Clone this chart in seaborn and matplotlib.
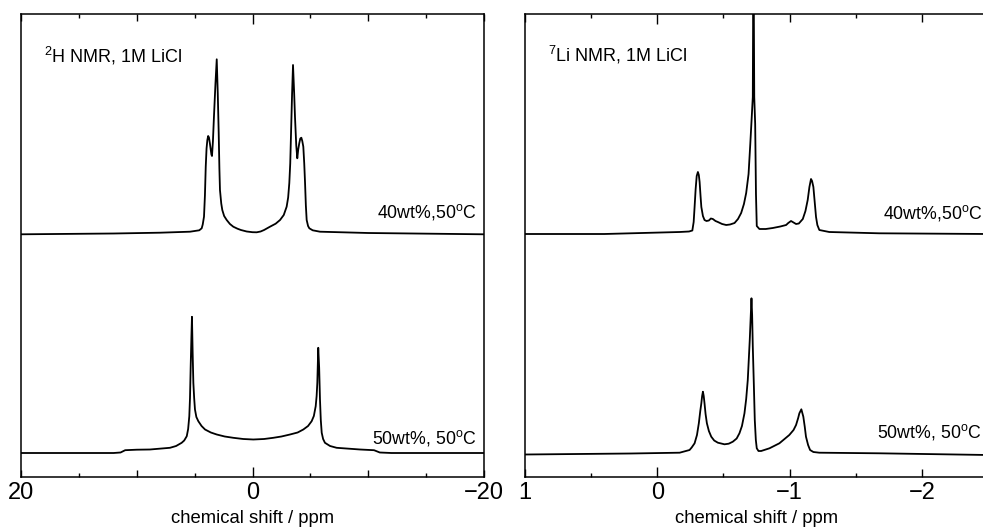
import numpy as np
import pandas as pd
import matplotlib
matplotlib.use("Agg")
import matplotlib.pyplot as plt
import seaborn as sns

# ---------------- data ----------------
# 2H NMR, 40 wt%, 50 C  (chemical shift in ppm, intensity in a.u.)
H2_PPM_40 = [20, 12, 8, 5.4, 4.6, 4.39, 4.30, 4.19, 4.11, 4.04,
             3.97, 3.90, 3.83, 3.76, 3.68, 3.61, 3.55, 3.50, 3.42, 3.33,
             3.20, 3.09, 3.00, 2.92, 2.86, 2.81, 2.70, 2.61, 2.45, 2.23,
             1.95, 1.66, 1.3, 1.0, 0.5, 0.0, -0.36, -0.7, -1.0, -1.51,
             -2.0, -2.38, -2.7, -2.95, -3.08, -3.18, -3.26, -3.33, -3.42, -3.50,
             -3.60, -3.67, -3.78, -3.87, -3.95, -4.04, -4.13, -4.22, -4.30, -4.39,
             -4.47, -4.54, -4.61, -4.68, -4.80, -4.91, -5.2, -5.83, -10, -20]
H2_INT_40 = [-0.8, 0, 0.8, 1.8, 3.2, 5.2, 9, 16.8, 38, 66.8,
             85, 93.5, 97.5, 96, 90, 84, 79, 77.5, 92, 116.8,
             150, 174.2, 140, 100.5, 65, 43.5, 30, 23.5, 17.5, 13.5,
             9.5, 6.8, 4.8, 3.5, 2.0, 1.3, 1.2, 2.0, 3.5, 6.8,
             9.8, 13.5, 18.5, 26.8, 36, 50.5, 70, 100.5, 140, 168.5,
             140, 116.8, 88, 75.2, 84, 90.2, 95, 95.8, 92.5, 86.8,
             70, 50.5, 28, 13.5, 7.5, 5.2, 3.2, 1.8, 0.5, -0.8]

# 2H NMR, 50 wt%, 50 C
H2_PPM_50 = [20, 12, 11.4, 11.0, 10.0, 8.86, 7.13, 6.6, 6.12, 5.9,
             5.68, 5.56, 5.46, 5.40, 5.34, 5.28, 5.23, 5.17, 5.11, 5.04,
             4.97, 4.85, 4.68, 4.4, 4.10, 3.6, 3.09, 2.4, 1.66, 0.8,
             -0.07, -1.0, -1.80, -2.5, -3.24, -3.9, -4.39, -4.8, -5.11, -5.3,
             -5.46, -5.54, -5.60, -5.68, -5.76, -5.83, -5.90, -5.98, -6.1, -6.26,
             -6.7, -7.27, -9.29, -10.5, -11.0, -12, -20]
H2_INT_50 = [0, 0, 0.5, 2.8, 3.3, 3.5, 5.2, 7, 10.2, 12.5,
             16.8, 24, 36.8, 55, 86.8, 115, 136.2, 100, 70.2, 55,
             43.5, 36, 31.8, 27, 23.5, 20.5, 18.5, 16.5, 15.2, 14,
             13.5, 14, 15.2, 16.5, 18.5, 20.5, 23.5, 27, 31.8, 37,
             46.8, 57, 70.2, 105.2, 85, 53.5, 33, 20.2, 14, 10.2,
             7, 5.2, 3.5, 2.8, 0.5, 0, 0]

# 7Li NMR, 40 wt%, 50 C
LI_PPM_40 = [1.0, 0.4, -0.169, -0.24, -0.265, -0.275, -0.282, -0.290, -0.298, -0.307,
             -0.314, -0.320, -0.327, -0.333, -0.345, -0.357, -0.372, -0.390, -0.405, -0.420,
             -0.44, -0.458, -0.49, -0.521, -0.55, -0.584, -0.61, -0.634, -0.655, -0.672,
             -0.690, -0.703, -0.714, -0.722, -0.727, -0.733, -0.740, -0.746, -0.752, -0.772,
             -0.82, -0.873, -0.93, -0.974, -0.99, -1.011, -1.03, -1.049, -1.07, -1.10,
             -1.12, -1.137, -1.15, -1.162, -1.17, -1.180, -1.19, -1.200, -1.21, -1.225,
             -1.300, -1.677, -2.5]
LI_INT_40 = [0, 0, 2, 2.5, 3.5, 12, 27, 45, 58, 62,
             59, 52, 38, 27, 18, 14, 13, 13.5, 15.5, 15,
             13, 12, 10, 9, 9.5, 11, 15, 21, 30, 41,
             60, 90, 117, 137, 300, 137, 110, 40, 8, 5,
             5, 6, 7.5, 9, 11, 13, 11.5, 10, 10.5, 15,
             23, 34, 47, 55, 53, 47, 32, 17, 9, 4,
             2, 0.7, 0]

# 7Li NMR, 50 wt%, 50 C
LI_PPM_50 = [1.0, 0.2, -0.169, -0.244, -0.26, -0.282, -0.30, -0.314, -0.325, -0.333,
             -0.339, -0.345, -0.351, -0.357, -0.365, -0.375, -0.39, -0.408, -0.43, -0.458,
             -0.508, -0.54, -0.571, -0.60, -0.621, -0.64, -0.659, -0.672, -0.684, -0.699,
             -0.712, -0.717, -0.722, -0.73, -0.737, -0.745, -0.752, -0.765, -0.785, -0.848,
             -0.923, -0.998, -1.03, -1.049, -1.065, -1.074, -1.089, -1.104, -1.115, -1.124,
             -1.14, -1.155, -1.18, -1.225, -1.677, -2.5]
LI_INT_50 = [0.5, 1.5, 2.3, 5, 7.5, 11.7, 20, 31.7, 44, 51.7,
             59, 63.3, 59, 51.7, 41, 31.7, 24, 18.3, 14.5, 12.3,
             10.7, 11.3, 13.3, 16.5, 21.7, 29, 41.7, 56, 75, 115,
             156.7, 140, 108.3, 70, 35, 15, 6.7, 4, 4, 6.7,
             11.7, 20, 25, 30, 37, 41.7, 45.7, 38.3, 28, 18.3,
             10, 5, 3, 2.3, 1.7, 0]

LEFT_TICKS = [20, 10, 0, -10, -20]
LEFT_TICK_LABELS = ["20", "", "0", "", "\u221220"]
LEFT_MINOR = [15, 5, -5, -15]
RIGHT_TICKS = [1, 0, -1, -2]
RIGHT_TICK_LABELS = ["1", "0", "\u22121", "\u22122"]
RIGHT_MINOR = [0.5, -0.5, -1.5]

TITLE_LEFT = r"$^{2}$H NMR, 1M LiCl"
TITLE_RIGHT = r"$^{7}$Li NMR, 1M LiCl"
LABEL_40 = r"40wt%,50$^{\mathrm{o}}$C"
LABEL_50 = r"50wt%, 50$^{\mathrm{o}}$C"
XLABEL = "chemical shift / ppm"

# vertical stacking offsets (same units as intensity)
OFF_TOP = 243.0
OFF_BOT = 23.0

# ---------------- style ----------------
sns.set_theme(style="ticks")
plt.rcParams["font.family"] = ["Liberation Sans", "DejaVu Sans"]
plt.rcParams["mathtext.fontset"] = "custom"
plt.rcParams["mathtext.rm"] = "Liberation Sans"
plt.rcParams["mathtext.it"] = "Liberation Sans:italic"
plt.rcParams["mathtext.bf"] = "Liberation Sans:bold"
plt.rcParams["axes.unicode_minus"] = True
plt.rcParams["text.color"] = "black"
plt.rcParams["axes.labelcolor"] = "black"

W, H = 983, 530
fig = plt.figure(figsize=(W / 100, H / 100), dpi=100)
fig.patch.set_facecolor("white")

ax_top_px, ax_bot_px = 14.0, 476.5
ax_h = (ax_bot_px - ax_top_px) / H
ax_b = (H - ax_bot_px) / H
axL = fig.add_axes([21 / W, ax_b, 463 / W, ax_h])
axR = fig.add_axes([525 / W, ax_b, 463 / W, ax_h])

YMAX = ax_bot_px - ax_top_px


def draw(ax, ppm, inten, off):
    df = pd.DataFrame({"ppm": ppm, "y": np.asarray(inten, float) + off})
    sns.lineplot(data=df, x="ppm", y="y", ax=ax, color="black", linewidth=1.3,
                 estimator=None, sort=False)


draw(axL, H2_PPM_40, H2_INT_40, OFF_TOP)
draw(axL, H2_PPM_50, H2_INT_50, OFF_BOT + 0.5)
draw(axR, LI_PPM_40, LI_INT_40, OFF_TOP - 0.5)
draw(axR, LI_PPM_50, LI_INT_50, OFF_BOT - 1.5)


def style(ax, xlim, majors, labels, minors, major_len, zero_len, minor_len):
    ax.set_xlim(*xlim)
    ax.set_ylim(0, YMAX)
    ax.set_facecolor("white")
    ax.set_yticks([])
    ax.set_ylabel("")
    ax.set_xticks(majors, labels=labels)
    ax.set_xticks(minors, minor=True)
    ax.set_xlabel(XLABEL, fontsize=13.3, labelpad=4, color="black")
    for s in ax.spines.values():
        s.set_visible(True)
        s.set_linewidth(1.1)
        s.set_color("black")
    ax.tick_params(axis="x", which="both", direction="in", top=True, bottom=True,
                   width=1.0, color="black", labelsize=17, pad=4, labelcolor="black")
    ax.tick_params(axis="x", which="major", length=major_len)
    ax.tick_params(axis="x", which="minor", length=minor_len)
    ticks = ax.xaxis.get_major_ticks()
    for loc, t in zip(majors, ticks):
        if loc == 0:
            t.tick1line.set_markersize(zero_len)
            t.tick2line.set_markersize(zero_len)


style(axL, (20, -20), LEFT_TICKS, LEFT_TICK_LABELS, LEFT_MINOR, 5.0, 7.5, 3.0)
style(axR, (1, -2.5), RIGHT_TICKS, RIGHT_TICK_LABELS, RIGHT_MINOR, 5.5, 7.5, 3.0)

# annotations
axL.text(0.0497, 0.896, TITLE_LEFT, transform=axL.transAxes, fontsize=13,
         ha="left", va="baseline", color="black")
axR.text(0.0497, 0.898, TITLE_RIGHT, transform=axR.transAxes, fontsize=13,
         ha="left", va="baseline", color="black")
axL.text(0.985, 0.559, LABEL_40, transform=axL.transAxes, fontsize=12.8,
         ha="right", va="baseline", color="black")
axL.text(0.983, 0.0718, LABEL_50, transform=axL.transAxes, fontsize=12.8,
         ha="right", va="baseline", color="black")
axR.text(0.9886, 0.557, LABEL_40, transform=axR.transAxes, fontsize=12.8,
         ha="right", va="baseline", color="black")
axR.text(0.9864, 0.0854, LABEL_50, transform=axR.transAxes, fontsize=12.8,
         ha="right", va="baseline", color="black")

fig.savefig("out.png", dpi=100, facecolor="white")
